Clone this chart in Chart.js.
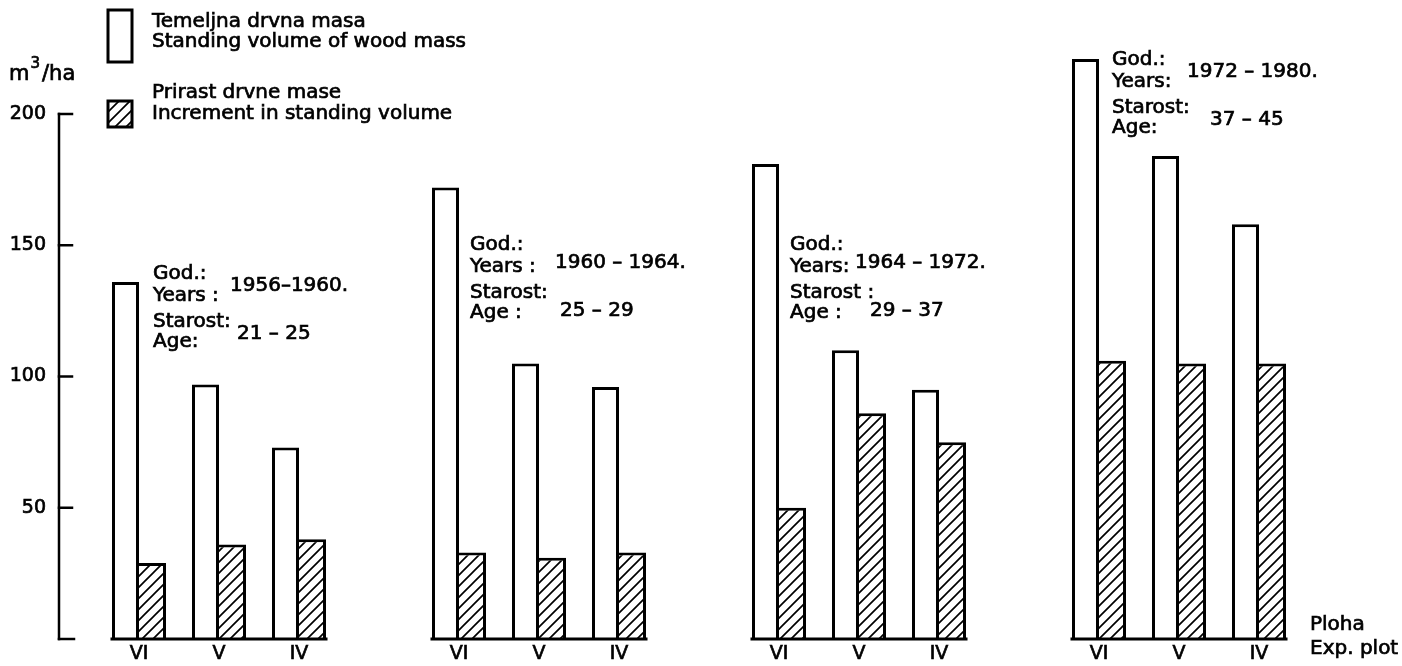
<!DOCTYPE html>
<html>
<head>
<meta charset="utf-8">
<script src="https://cdn.jsdelivr.net/npm/chart.js@4.4.1/dist/chart.umd.min.js"></script>
<style>
  html, body { margin: 0; padding: 0; background: #fff; }
  #wrap { width: 1402px; height: 666px; }
</style>
</head>
<body>
<div id="wrap"><canvas id="chart" width="1402" height="666"></canvas></div>
<script>
// experimental plots, an empty slot between measuring periods
const plots = ['', 'VI', 'V', 'IV', '', 'VI', 'V', 'IV', '', 'VI', 'V', 'IV', '', 'VI', 'V', 'IV', ''];
const standingVolume = [null, 136, 97, 73, null, 172, 105, 96, null, 181, 110, 95, null, 221, 184, 158, null];
const increment = [null, 29, 36, 38, null, 33, 31, 33, null, 50, 86, 75, null, 106, 105, 105, null];
const yTicks = [50, 100, 150, 200];
const periods = ['1956–1960.', '1960 – 1964.', '1964 – 1972.', '1972 – 1980.'];
const ages = ['21 – 25', '25 – 29', '29 – 37', '37 – 45'];

const FONT = '"DejaVu Sans", sans-serif';

// text block position for each period (pixels)
const notes = [
    { x: 153, y: 279, px: 230, pdy: 12, ax: 237, ady: 60, yr: 'Years :', st: 'Starost:', ag: 'Age:' },
    { x: 470, y: 250, px: 555, pdy: 18, ax: 560, ady: 66, yr: 'Years :', st: 'Starost:', ag: 'Age :' },
    { x: 790, y: 250, px: 855, pdy: 18, ax: 870, ady: 66, yr: 'Years:', st: 'Starost :', ag: 'Age :' },
    { x: 1112, y: 65, px: 1187, pdy: 12, ax: 1210, ady: 60, yr: 'Years:', st: 'Starost:', ag: 'Age:' }
];

function makeHatch() {
    const c = document.createElement('canvas');
    c.width = 11; c.height = 11;
    const g = c.getContext('2d');
    g.fillStyle = '#fff';
    g.fillRect(0, 0, 11, 11);
    g.strokeStyle = '#000';
    g.lineWidth = 1.7;
    g.beginPath();
    g.moveTo(0, 11); g.lineTo(11, 0);
    g.moveTo(-6, 6); g.lineTo(6, -6);
    g.moveTo(5, 17); g.lineTo(17, 5);
    g.stroke();
    return g.createPattern(c, 'repeat');
}
const hatch = makeHatch();

// runs of plot labels -> groups of bars
function groups() {
    const out = [];
    let cur = null;
    plots.forEach((p, i) => {
        if (p) {
            if (!cur) { cur = []; out.push(cur); }
            cur.push(i);
        } else cur = null;
    });
    return out;
}

function text(ctx, s, x, y) {
    ctx.fillText(s, x, y);
    ctx.strokeText(s, x, y);
}

const extras = {
    id: 'extras',
    afterDatasetsDraw(chart) {
        const { ctx, chartArea, scales: { y } } = chart;
        const white = chart.getDatasetMeta(0).data;
        const hatched = chart.getDatasetMeta(1).data;
        const base = y.getPixelForValue(0);
        ctx.save();
        ctx.strokeStyle = '#000';
        ctx.lineWidth = 3;
        ctx.lineCap = 'square';

        // baseline under each period
        groups().forEach(g => {
            const a = white[g[0]], b = hatched[g[g.length - 1]];
            ctx.beginPath();
            ctx.moveTo(a.x - a.width / 2, base);
            ctx.lineTo(b.x + b.width / 2, base);
            ctx.stroke();
        });

        // y axis with inward ticks
        const x0 = chartArea.left;
        ctx.lineWidth = 2.5;
        ctx.beginPath();
        ctx.moveTo(x0, y.getPixelForValue(200));
        ctx.lineTo(x0, base);
        ctx.stroke();
        [0].concat(yTicks).forEach(v => {
            const py = y.getPixelForValue(v);
            ctx.beginPath();
            ctx.moveTo(x0, py);
            ctx.lineTo(x0 + (v === 0 ? 15 : 13), py);
            ctx.stroke();
        });
        ctx.restore();
    },
    afterDraw(chart) {
        const { ctx } = chart;
        ctx.save();
        ctx.fillStyle = '#000';
        ctx.strokeStyle = '#000';
        ctx.textBaseline = 'alphabetic';
        ctx.lineWidth = 0.7;

        // unit
        ctx.font = '21px ' + FONT;
        text(ctx, 'm', 9, 80);
        const w = ctx.measureText('m').width;
        ctx.font = '15px ' + FONT;
        text(ctx, '3', 9 + w + 1, 68);
        const w3 = ctx.measureText('3').width;
        ctx.font = '21px ' + FONT;
        text(ctx, '/ha', 9 + w + w3 + 3, 80);

        // legend
        ctx.lineWidth = 3;
        ctx.fillStyle = '#fff';
        ctx.fillRect(108, 10, 24, 52);
        ctx.strokeRect(108, 10, 24, 52);
        ctx.fillStyle = hatch;
        ctx.fillRect(108, 101, 24, 26);
        ctx.strokeRect(108, 101, 24, 26);
        ctx.fillStyle = '#000';
        ctx.lineWidth = 0.7;
        ctx.font = '20px ' + FONT;
        text(ctx, 'Temeljna drvna masa', 152, 27);
        text(ctx, 'Standing volume of wood mass', 152, 47);
        text(ctx, 'Prirast drvne mase', 152, 98);
        text(ctx, 'Increment in standing volume', 152, 119);

        // period / age notes
        notes.forEach((n, i) => {
            text(ctx, 'God.:', n.x, n.y);
            text(ctx, n.yr, n.x, n.y + 22);
            text(ctx, periods[i], n.px, n.y + n.pdy);
            text(ctx, n.st, n.x, n.y + 48);
            text(ctx, n.ag, n.x, n.y + 68);
            text(ctx, ages[i], n.ax, n.y + n.ady);
        });

        // x axis name
        text(ctx, 'Ploha', 1310, 630);
        text(ctx, 'Exp. plot', 1310, 654);
        ctx.restore();
    }
};

const tickFont = { family: FONT, size: 19 };

new Chart(document.getElementById('chart'), {
    type: 'bar',
    data: {
        labels: plots,
        datasets: [{
            label: 'Temeljna drvna masa',
            data: standingVolume,
            backgroundColor: '#fff',
            borderColor: '#000',
            borderWidth: { top: 3, left: 3, right: 3, bottom: 0 },
            borderSkipped: false
        }, {
            label: 'Prirast drvne mase',
            data: increment,
            backgroundColor: hatch,
            borderColor: '#000',
            borderWidth: { top: 3, left: 0, right: 3, bottom: 0 },
            borderSkipped: false
        }]
    },
    options: {
        responsive: false,
        animation: false,
        layout: { padding: { left: 8, right: 63, top: 9, bottom: 0 } },
        datasets: { bar: { categoryPercentage: 0.675, barPercentage: 1 } },
        plugins: { legend: { display: false }, tooltip: { enabled: false } },
        scales: {
            x: {
                offset: false,
                grid: { display: false, drawTicks: false },
                border: { display: false },
                ticks: { autoSkip: false, maxRotation: 0, padding: 4, color: '#000', font: tickFont, textStrokeColor: '#000', textStrokeWidth: 0.7 },
                afterFit: s => { s.height = 27; s.paddingLeft = 0; s.paddingRight = 0; }
            },
            y: {
                min: 0,
                max: 240,
                grid: { display: false, drawTicks: false },
                border: { display: false },
                afterBuildTicks: s => { s.ticks = yTicks.map(v => ({ value: v })); },
                ticks: { padding: 13, color: '#000', font: tickFont, textStrokeColor: '#000', textStrokeWidth: 0.7 },
                afterFit: s => { s.width = 51; s.paddingTop = 0; s.paddingBottom = 0; }
            }
        }
    },
    plugins: [extras]
});
</script>
</body>
</html>
